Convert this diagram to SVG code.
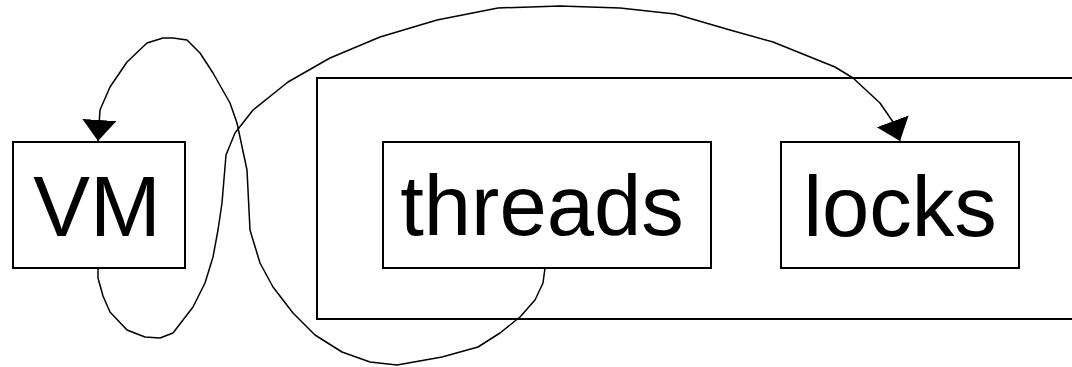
<svg xmlns="http://www.w3.org/2000/svg" width="1072" height="367" viewBox="0 0 1072 367">
<style>
.box{fill:none;stroke:#000;stroke-width:2}
.lbl{font-family:"Liberation Sans",Arial,sans-serif;font-size:85px;fill:#000;text-anchor:middle}
.edge{fill:none;stroke:#000;stroke-width:1.5;stroke-linejoin:round}
</style>
<defs>
<marker id="arr" markerUnits="userSpaceOnUse" markerWidth="24" markerHeight="36" refX="21" refY="17" orient="auto" viewBox="0 0 24 36">
<path d="M0,0 L21,17 L0,34 z" fill="#000"/>
</marker>
</defs>
<rect x="0" y="0" width="1072" height="367" fill="#fff"/>
<g id="container"><rect class="box" x="317" y="78" width="770" height="241"/></g>
<g id="vm"><rect class="box" x="13" y="142" width="172" height="126"/><text class="lbl" x="97" y="236">VM</text></g>
<g id="threads"><rect class="box" x="383" y="142" width="328" height="126"/><text class="lbl" x="542" y="235">threads</text></g>
<g id="locks"><rect class="box" x="781" y="142" width="238" height="126"/><text class="lbl" x="900" y="236">locks</text></g>
<g id="connectors">
<polyline class="edge" marker-end="url(#arr)" points="98,268 98,278 103,296 110,312 127,330 145,337 160,338 173,333 193,307 205,283 213,257 218,230 222,203 226,155 235,133 253,110 288,82 330,58 380,37 437,20 498,8 560,6 620,8 675,14 730,30 773,42 835,67 853,78 880,103 893,122 900,141"/>
<polyline class="edge" marker-end="url(#arr)" points="545,268 543,283 535,300 520,317 500,333 478,347 442,357 397,365 370,362 342,352 315,335 293,313 273,287 260,263 250,230 247,170 237,123 230,103 213,73 200,53 187,40 173,38 163,38 147,43 127,62 110,87 100,110 98,141"/>
</g>
</svg>
